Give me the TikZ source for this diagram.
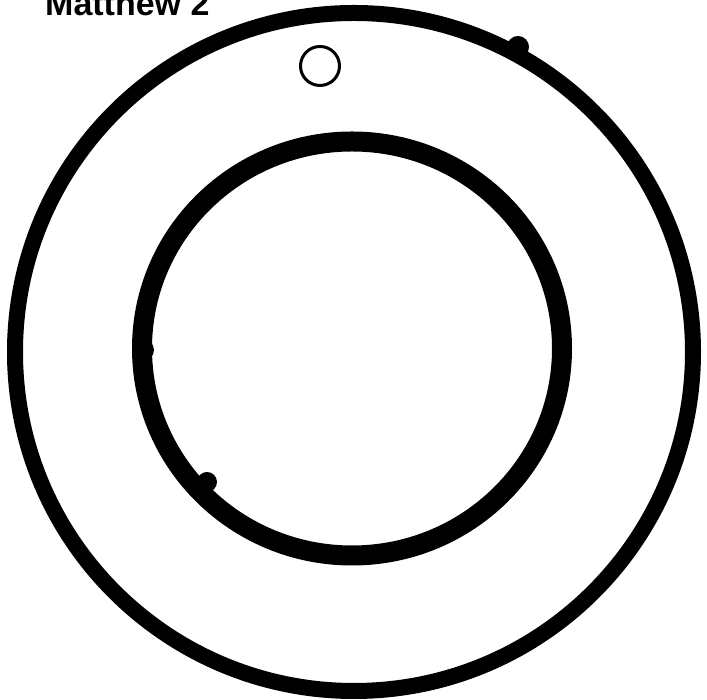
\documentclass[tikz,border=0pt]{standalone}
\usepackage{fontspec}
\setmainfont{Liberation Sans}
\begin{document}
\begin{tikzpicture}[x=1pt, y=1pt,
  ring/.style={draw, line width=#1},
  blob/.style={fill, draw=none}]
\useasboundingbox (0,0) rectangle (707,700);
\node[anchor=base west, inner sep=0pt, font=\bfseries\fontsize{34}{40}\selectfont] (title) at (45,684) {Matthew 2};
\coordinate (centre) at (354,348);
\draw[ring=16pt] (centre) circle [radius=339];
\draw[ring=20pt] (352,351.5) ellipse [x radius=210, y radius=207];
\draw[ring=3pt] (320,634) circle [radius=19.5];
\fill[blob] (518,653) circle [radius=11];
\fill[blob] (143,350) circle [radius=11];
\fill[blob] (207,218) circle [radius=10];
\end{tikzpicture}
\end{document}
